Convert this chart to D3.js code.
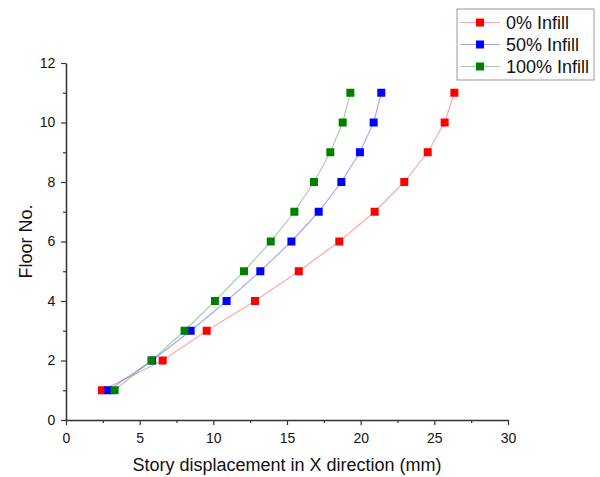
<!DOCTYPE html>
<html>
<head>
<meta charset="utf-8">
<script src="https://cdn.jsdelivr.net/npm/d3@7"></script>
<style>
  body { margin: 0; background: #fff; }
  text { font-family: "Liberation Sans", Arial, sans-serif; }
</style>
</head>
<body>
<div id="chart"></div>
<script>
// floors and story displacement (mm) per infill case
const floors = [1, 2, 3, 4, 5, 6, 7, 8, 9, 10, 11];
const infill0 = [2.44, 6.56, 9.55, 12.83, 15.8, 18.55, 20.95, 22.96, 24.55, 25.7, 26.36];
const infill50 = [2.87, 5.85, 8.46, 10.9, 13.19, 15.3, 17.15, 18.69, 19.95, 20.88, 21.4];
const infill100 = [3.3, 5.8, 8.05, 10.11, 12.08, 13.9, 15.5, 16.83, 17.94, 18.78, 19.3];
const seriesNames = ["0% Infill", "50% Infill", "100% Infill"];
const colors = ["#ff0000", "#0000ff", "#008000"];
const xTicks = [0, 5, 10, 15, 20, 25, 30];
const yTicks = [0, 2, 4, 6, 8, 10, 12];

const width = 600;
const height = 477;
const marginLeft = 66;
const marginRight = 92;
const marginTop = 63;
const marginBottom = 57;

const series = [infill0, infill50, infill100].map((vals, i) => ({
  name: seriesNames[i],
  color: colors[i],
  points: vals.map((v, j) => [v, floors[j]])
}));

const x = d3.scaleLinear().domain([0, 30]).range([marginLeft, width - marginRight]);
const y = d3.scaleLinear().domain([0, 12]).range([height - marginBottom, marginTop]);

const svg = d3.select("#chart").append("svg")
  .attr("width", width)
  .attr("height", height);

// minor ticks
svg.append("g")
  .attr("transform", `translate(0,${height - marginBottom})`)
  .call(d3.axisBottom(x).tickValues(d3.range(2.5, 30, 5)).tickSize(3).tickFormat(""))
  .call(g => g.select(".domain").remove())
  .selectAll("line").attr("stroke", "#333").attr("stroke-width", 1.2);

svg.append("g")
  .attr("transform", `translate(${marginLeft},0)`)
  .call(d3.axisLeft(y).tickValues(d3.range(1, 12, 2)).tickSize(3).tickFormat(""))
  .call(g => g.select(".domain").remove())
  .selectAll("line").attr("stroke", "#333").attr("stroke-width", 1.2);

// major axes
const xAxis = svg.append("g")
  .attr("transform", `translate(0,${height - marginBottom})`)
  .call(d3.axisBottom(x).tickValues(xTicks).tickSize(5).tickSizeOuter(0));

const yAxis = svg.append("g")
  .attr("transform", `translate(${marginLeft},0)`)
  .call(d3.axisLeft(y).tickValues(yTicks).tickSize(5).tickSizeOuter(0));

[xAxis, yAxis].forEach(a => {
  a.select(".domain").attr("stroke", "#333").attr("stroke-width", 1.5);
  a.selectAll(".tick line").attr("stroke", "#333").attr("stroke-width", 1.2);
  a.selectAll(".tick text").attr("font-size", 14).attr("fill", "#111")
    .attr("font-family", "Liberation Sans, Arial, sans-serif");
});
xAxis.selectAll(".tick text").attr("dy", "1.1em");
yAxis.selectAll(".tick text").attr("dx", "-0.2em");

// axis titles
svg.append("text")
  .attr("x", (marginLeft + width - marginRight) / 2)
  .attr("y", 471)
  .attr("text-anchor", "middle")
  .attr("font-size", 18)
  .attr("fill", "#111")
  .text("Story displacement in X direction (mm)");

svg.append("text")
  .attr("transform", `translate(32,${(marginTop + height - marginBottom) / 2}) rotate(-90)`)
  .attr("text-anchor", "middle")
  .attr("font-size", 18)
  .attr("fill", "#111")
  .text("Floor No.");

const line = d3.line().x(d => x(d[0])).y(d => y(d[1]));

series.forEach(s => {
  const g = svg.append("g");
  g.append("path")
    .attr("d", line(s.points))
    .attr("fill", "none")
    .attr("stroke", s.color)
    .attr("stroke-opacity", 0.35)
    .attr("stroke-width", 1.2);
  g.selectAll("rect")
    .data(s.points)
    .join("rect")
    .attr("x", d => x(d[0]) - 4)
    .attr("y", d => y(d[1]) - 4)
    .attr("width", 8)
    .attr("height", 8)
    .attr("fill", s.color);
});

// legend
const legend = svg.append("g");
legend.append("rect")
  .attr("x", 457)
  .attr("y", 9)
  .attr("width", 137)
  .attr("height", 71)
  .attr("fill", "#fff")
  .attr("stroke", "#999")
  .attr("stroke-width", 1);

series.forEach((s, i) => {
  const ly = 22.5 + i * 22;
  legend.append("line")
    .attr("x1", 460).attr("x2", 500)
    .attr("y1", ly).attr("y2", ly)
    .attr("stroke", s.color)
    .attr("stroke-opacity", 0.35)
    .attr("stroke-width", 1.2);
  legend.append("rect")
    .attr("x", 476).attr("y", ly - 4)
    .attr("width", 8).attr("height", 8)
    .attr("fill", s.color);
  legend.append("text")
    .attr("x", 506)
    .attr("y", ly)
    .attr("dy", "0.36em")
    .attr("font-size", 18)
    .attr("fill", "#111")
    .text(s.name);
});
</script>
</body>
</html>
